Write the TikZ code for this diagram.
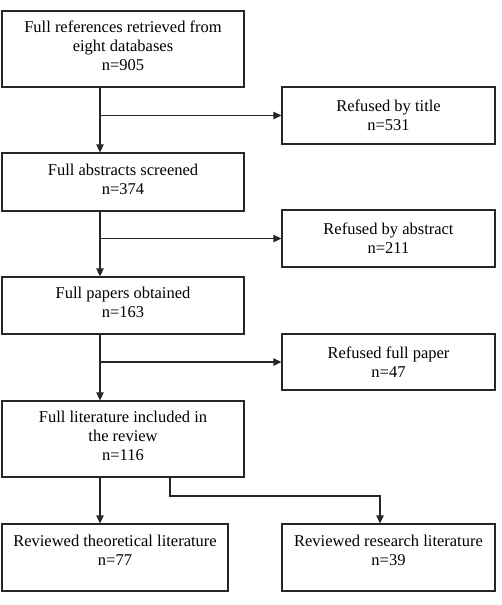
\documentclass[tikz,border=0pt]{standalone}
\usepackage{fontspec}
\setmainfont{Liberation Serif}
\usetikzlibrary{arrows.meta}
\tikzset{
  stagebox/.style={draw=black!85, line width=1.3pt, align=center, inner sep=0pt,
    font=\fontsize{16.5}{19}\selectfont},
  leftbox/.style={stagebox, minimum width=242pt},
  sidebox/.style={stagebox, minimum width=213pt, minimum height=57pt},
  flowline/.style={draw=black!85, line width=1.3pt},
  flowarrow/.style={flowline, -{Triangle[length=8pt,width=7.5pt]}},
}

\begin{document}
\begin{tikzpicture}[x=1pt,y=-1pt]
\useasboundingbox (0,0) rectangle (501,605);
% left column
\node[leftbox, minimum height=76pt] (refs) at (123,49) {Full references retrieved from\\eight databases\\n=905\\[-13pt]};
\node[leftbox, minimum height=58pt] (abstr) at (123,182) {Full abstracts screened\\n=374\\[-13pt]};
\node[leftbox, minimum height=57pt] (papers) at (123,305.5) {Full papers obtained\\n=163\\[-13pt]};
\node[leftbox, minimum height=76pt] (lit) at (123,439) {Full literature included in\\the review\\n=116\\[-13pt]};
\node[stagebox, minimum width=226pt, minimum height=67pt] (theo) at (115,557.5) {Reviewed theoretical literature\\n=77\\[-5pt]};
% right column
\node[sidebox] (title) at (388.5,115.5) {Refused by title\\n=531};
\node[sidebox] (refabs) at (388.5,238.5) {Refused by abstract\\n=211};
\node[sidebox, minimum height=56pt] (refpap) at (388.5,362) {Refused full paper\\n=47};
\node[sidebox, minimum height=67pt] (res) at (388.5,557.5) {Reviewed research literature\\n=39\\[-5pt]};
% connectors
\coordinate (spine) at (100,0);
\coordinate (split) at (170,0);
\coordinate (drop) at (380,496);
\draw[flowarrow] (refs.south -| spine) -- (abstr.north -| spine);
\draw[flowarrow] (abstr.south -| spine) -- (papers.north -| spine);
\draw[flowarrow] (papers.south -| spine) -- (lit.north -| spine);
\draw[flowarrow] (lit.south -| spine) -- (theo.north -| spine);
\draw[flowarrow] (title.west -| spine) -- (title.west);
\draw[flowarrow] (refabs.west -| spine) -- (refabs.west);
\draw[flowarrow] (refpap.west -| spine) -- (refpap.west);
\draw[flowarrow] (lit.south -| split) |- (drop) -- (res.north -| drop);
\end{tikzpicture}
\end{document}
